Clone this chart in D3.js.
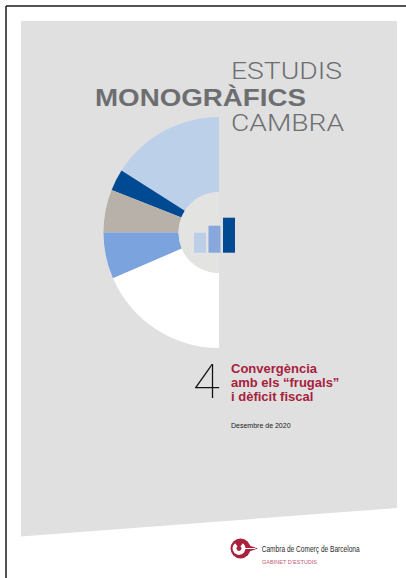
<!DOCTYPE html>
<html>
<head>
<meta charset="utf-8">
<script src="https://cdn.jsdelivr.net/npm/d3@7"></script>
<style>
  body { margin: 0; background: #fff; }
  svg { display: block; }
</style>
</head>
<body>
<script>
// donut segments, from top going anticlockwise
const sectors = ["s1", "s2", "s3", "s4", "s5"];
const shares = [32, 6, 12, 13, 37];
const sectorColors = ["#bdd0ea", "#004a94", "#b8b1aa", "#7ba3de", "#ffffff"];

// small bars in the hole
const barKeys = ["b1", "b2", "b3"];
const barValues = [20, 27, 35];
const barColors = ["#bccfe9", "#87a7dd", "#004a94"];

const W = 406, H = 578;

let svg = d3.select("body")
    .append("svg")
    .attr("width", W)
    .attr("height", H);

// page frame (top + left)
svg.append("line")
    .attr("x1", 6).attr("y1", 6).attr("x2", W).attr("y2", 6)
    .attr("stroke", "#1a1a1a").attr("stroke-width", 1.5);
svg.append("line")
    .attr("x1", 6).attr("y1", 6).attr("x2", 6).attr("y2", H)
    .attr("stroke", "#1a1a1a").attr("stroke-width", 1.5);

// grey panel with slanted bottom
svg.append("path")
    .attr("d", "M21,21 L397,21 L397,508 L21,536.5 Z")
    .attr("fill", "#dfe0df");

// donut (left half)
const cx = 219, cy = 232.5, rOut = 115.5, rIn = 40.5;

const pie = d3.pie()
    .sort(null)
    .startAngle(0)
    .endAngle(-Math.PI)
    .value(d => d);

const arc = d3.arc().innerRadius(rIn).outerRadius(rOut);

let g = svg.append("g").attr("transform", `translate(${cx},${cy})`);

g.selectAll("path.slice")
    .data(pie(shares))
    .join("path")
    .attr("class", "slice")
    .attr("d", arc)
    .attr("fill", (d, i) => sectorColors[i]);

// hole, a touch lighter than the panel
g.append("path")
    .attr("d", d3.arc()({innerRadius: 0, outerRadius: rIn, startAngle: 0, endAngle: -Math.PI}))
    .attr("fill", "#e3e3e2");

// bars
const x = d3.scaleBand()
    .domain(barKeys)
    .range([194, 235])
    .paddingInner(0.172);
const y = d3.scaleLinear()
    .domain([0, 35])
    .range([252.7, 217.7]);

svg.selectAll("rect.bar")
    .data(barValues)
    .join("rect")
    .attr("class", "bar")
    .attr("x", (d, i) => x(barKeys[i]))
    .attr("y", d => y(d))
    .attr("width", x.bandwidth())
    .attr("height", d => y(0) - y(d))
    .attr("fill", (d, i) => barColors[i]);

// heading
svg.append("text")
    .attr("x", 231).attr("y", 79)
    .attr("textLength", 111).attr("lengthAdjust", "spacingAndGlyphs")
    .style("font-family", "Roboto, 'Liberation Sans', sans-serif")
    .style("font-weight", 300)
    .style("font-size", "24px")
    .attr("fill", "#6d6e71")
    .text("ESTUDIS");

svg.append("text")
    .attr("x", 95).attr("y", 106)
    .attr("textLength", 211).attr("lengthAdjust", "spacingAndGlyphs")
    .style("font-family", "'Liberation Sans', Arial, sans-serif")
    .style("font-weight", 700)
    .style("font-size", "24px")
    .attr("fill", "#6d6e71")
    .text("MONOGRÀFICS");

svg.append("text")
    .attr("x", 231).attr("y", 130.7)
    .attr("textLength", 113).attr("lengthAdjust", "spacingAndGlyphs")
    .style("font-family", "Roboto, 'Liberation Sans', sans-serif")
    .style("font-weight", 300)
    .style("font-size", "24px")
    .attr("fill", "#6d6e71")
    .text("CAMBRA");

// issue number
svg.append("text")
    .attr("x", 193).attr("y", 397.7)
    .style("font-family", "Roboto, 'DejaVu Sans', sans-serif")
    .style("font-weight", 100)
    .style("font-size", "49px")
    .attr("fill", "#111")
    .text("4");

// title
const titleLines = ["Convergència", "amb els \u201cfrugals\u201d", "i dèficit fiscal"];
svg.selectAll("text.title")
    .data(titleLines)
    .join("text")
    .attr("class", "title")
    .attr("x", 231)
    .attr("y", (d, i) => 372.5 + i * 14.3)
    .style("font-family", "'Liberation Sans', Arial, sans-serif")
    .style("font-weight", 700)
    .style("font-size", "13px")
    .attr("fill", "#a8213d")
    .text(d => d);

svg.append("text")
    .attr("x", 231).attr("y", 428)
    .style("font-family", "'Liberation Sans', Arial, sans-serif")
    .style("font-size", "7px")
    .attr("fill", "#222")
    .text("Desembre de 2020");

// logo
let logo = svg.append("g").attr("transform", "translate(240.5,548.5)");
logo.append("path")
    .attr("d", "M7,-3.5 L17.5,0 L7,3.5 Z")
    .attr("fill", "#a8213d");
logo.append("circle").attr("r", 10).attr("fill", "#a8213d");
logo.append("path")
    .attr("transform", "translate(-1.5,0)")
    .attr("d", d3.arc()({innerRadius: 2.4, outerRadius: 6.5,
        startAngle: Math.PI * 0.2, endAngle: Math.PI * 1.8}))
    .attr("fill", "#fff");
logo.append("line")
    .attr("x1", 3).attr("y1", 0).attr("x2", 15).attr("y2", 0)
    .attr("stroke", "#fff").attr("stroke-width", 1);

svg.append("text")
    .attr("x", 261.7).attr("y", 551.5)
    .attr("textLength", 98).attr("lengthAdjust", "spacingAndGlyphs")
    .style("font-family", "'Liberation Sans Narrow', 'Liberation Sans', sans-serif")
    .style("font-size", "9px")
    .attr("fill", "#2b2b2b")
    .text("Cambra de Comerç de Barcelona");

svg.append("text")
    .attr("x", 262).attr("y", 564)
    .attr("textLength", 55).attr("lengthAdjust", "spacingAndGlyphs")
    .style("font-family", "'Liberation Sans', Arial, sans-serif")
    .style("font-size", "5.5px")
    .attr("fill", "#c45a72")
    .text("GABINET D\u2019ESTUDIS");
</script>
</body>
</html>
